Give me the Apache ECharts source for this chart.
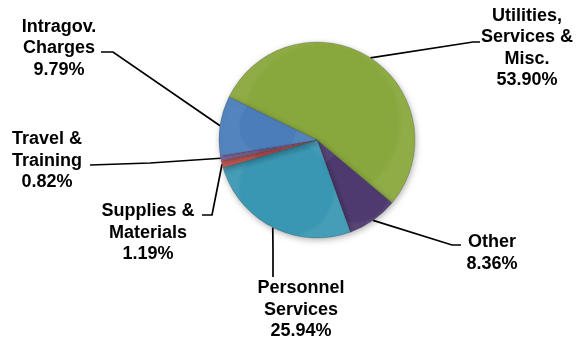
<!DOCTYPE html>
<html>
<head>
<meta charset="utf-8">
<script src="https://cdn.jsdelivr.net/npm/echarts@6/dist/echarts.min.js"></script>
<style>html,body{margin:0;padding:0;background:#fff}#c{width:583px;height:344px}</style>
</head>
<body>
<div id="c"></div>
<script>
var categories = ['Utilities,\nServices &\nMisc.', 'Other', 'Personnel\nServices', 'Supplies &\nMaterials', 'Travel &\nTraining', 'Intragov.\nCharges'];
var values = [53.90, 8.36, 25.94, 1.19, 0.82, 9.79];
var colors = ['#88A73C', '#4E3A6F', '#3A97B3', '#C0504D', '#7E62A0', '#4A7DBA'];

// label placement (style only)
var labelPos = [[527, 48], [492, 253], [301, 310], [148, 233], [47, 161], [59, 48.5]];
var elbows = [
  [[473, 42], [480, 42]],
  [[452, 245], [461, 245]],
  [[273, 250], [273, 277]],
  [[212, 215], [202, 215]],
  [[150, 163], [90, 165]],
  [[113, 52], [101, 52]]
];

var data = categories.map(function (n, i) {
  return {
    name: n, value: values[i],
    itemStyle: {
      color: {
        type: 'radial', x: 0.5, y: 0.5, r: 0.5,
        colorStops: [
          {offset: 0, color: colors[i]},
          {offset: 0.93, color: colors[i]},
          {offset: 1, color: echarts.color.lift(colors[i], 0.06)}
        ]
      }
    }
  };
});

var chart = echarts.init(document.getElementById('c'));
chart.setOption({
  animation: false,
  series: [{
    type: 'pie',
    center: [317, 140],
    radius: 98,
    startAngle: 154,
    clockwise: true,
    data: data,
    itemStyle: {
      borderColor: 'rgba(40,40,40,0.35)', borderWidth: 0.6,
      shadowBlur: 6, shadowColor: 'rgba(0,0,0,0.3)', shadowOffsetX: 1, shadowOffsetY: 2
    },
    label: {
      show: true,
      formatter: function (p) { return p.name + '\n' + p.value.toFixed(2) + '%'; },
      fontFamily: 'Liberation Sans, Arial, sans-serif',
      fontWeight: 'bold',
      fontSize: 18,
      lineHeight: 21.5,
      color: '#000',
      align: 'center'
    },
    labelLine: {
      show: true,
      lineStyle: {color: '#000', width: 1.7}
    },
    labelLayout: function (params) {
      var i = params.dataIndex;
      var edge = params.labelLinePoints ? params.labelLinePoints[0] : [0, 0];
      return {
        x: labelPos[i][0],
        y: labelPos[i][1],
        align: 'center',
        verticalAlign: 'middle',
        labelLinePoints: [edge, elbows[i][0], elbows[i][1]]
      };
    }
  }]
});
</script>
</body>
</html>
